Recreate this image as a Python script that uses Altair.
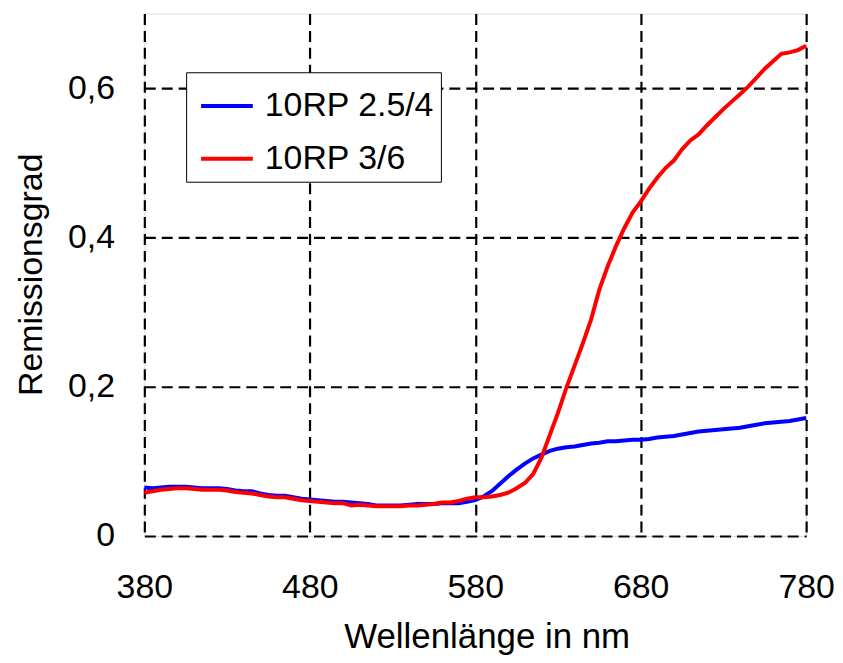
import altair as alt
import pandas as pd

wavelength = list(range(380, 785, 5))

blue_values = [
    0.065, 0.064, 0.065, 0.066, 0.066, 0.066, 0.065, 0.064, 0.064, 0.064,
    0.063, 0.061, 0.060, 0.060, 0.057, 0.055, 0.054, 0.054, 0.052, 0.050,
    0.049, 0.048, 0.047, 0.046, 0.046, 0.045, 0.044, 0.043, 0.041, 0.041,
    0.041, 0.041, 0.042, 0.043, 0.043, 0.043, 0.044, 0.044, 0.044, 0.046,
    0.048, 0.053, 0.060, 0.070, 0.080, 0.089, 0.097, 0.104, 0.109, 0.114,
    0.117, 0.119, 0.120, 0.122, 0.124, 0.125, 0.127, 0.127, 0.128, 0.129,
    0.129, 0.130, 0.132, 0.133, 0.134, 0.136, 0.138, 0.140, 0.141, 0.142,
    0.143, 0.144, 0.145, 0.147, 0.149, 0.151, 0.152, 0.153, 0.154, 0.156,
    0.158,
]

red_values = [
    0.058, 0.060, 0.062, 0.063, 0.064, 0.064, 0.063, 0.062, 0.062, 0.062,
    0.061, 0.059, 0.058, 0.057, 0.055, 0.053, 0.052, 0.052, 0.050, 0.048,
    0.047, 0.046, 0.045, 0.044, 0.044, 0.041, 0.042, 0.041, 0.040, 0.040,
    0.040, 0.040, 0.041, 0.041, 0.042, 0.043, 0.045, 0.045, 0.047, 0.050,
    0.052, 0.052, 0.053, 0.055, 0.058, 0.064, 0.071, 0.083, 0.105, 0.135,
    0.165, 0.198, 0.228, 0.258, 0.290, 0.330, 0.361, 0.388, 0.412, 0.433,
    0.448, 0.465, 0.480, 0.493, 0.503, 0.518, 0.530, 0.538, 0.550, 0.561,
    0.572, 0.582, 0.592, 0.602, 0.614, 0.626, 0.636, 0.646, 0.648, 0.651,
    0.657,
]

series_names = ["10RP 2.5/4", "10RP 3/6"]
series_colors = ["#0000FF", "#FF0000"]
x_ticks = [380, 480, 580, 680, 780]
y_ticks = [0, 0.2, 0.4, 0.6]

df = pd.concat([
    pd.DataFrame({"wl": wavelength, "val": blue_values, "series": series_names[0]}),
    pd.DataFrame({"wl": wavelength, "val": red_values, "series": series_names[1]}),
])

FONT = "Liberation Sans"

chart = alt.Chart(df).mark_line(strokeWidth=4).encode(
    x=alt.X(
        "wl:Q",
        scale=alt.Scale(domain=[380, 780], nice=False),
        axis=alt.Axis(
            values=x_ticks,
            title="Wellenlänge in nm",
            ticks=False,
            tickSize=0,
            domain=False,
            labelFont=FONT,
            labelFontSize=34,
            labelColor="black",
            labelPadding=62,
            labelBaseline="alphabetic",
            labelFlush=False,
            labelOverlap=False,
            titleFont=FONT,
            titleFontSize=35,
            titleFontWeight="normal",
            titleColor="black",
            titleBaseline="alphabetic",
            titleX=344,
            titleY=112,
            grid=True,
            gridColor="black",
            gridWidth=2.2,
            gridDash=[11, 6],
            gridOpacity=1,
        ),
    ),
    y=alt.Y(
        "val:Q",
        scale=alt.Scale(domain=[0, 0.7], nice=False),
        axis=alt.Axis(
            values=y_ticks,
            title="Remissionsgrad",
            ticks=False,
            tickSize=0,
            domain=False,
            labelFont=FONT,
            labelFontSize=34,
            labelColor="black",
            labelPadding=30,
            labelBaseline="middle",
            labelFlush=False,
            labelOverlap=False,
            labelExpr="datum.value == 0 ? '0' : replace(format(datum.value, '.1f'), '.', ',')",
            titleFont=FONT,
            titleFontSize=34,
            titleFontWeight="normal",
            titleColor="black",
            titleAngle=-90,
            titleAlign="center",
            titleBaseline="alphabetic",
            titleX=-103,
            titleY=262,
            grid=True,
            gridColor="black",
            gridWidth=2.2,
            gridDash=[11, 6],
            gridOpacity=1,
        ),
    ),
    color=alt.Color(
        "series:N",
        scale=alt.Scale(domain=series_names, range=series_colors),
        legend=alt.Legend(
            title=None,
            orient="none",
            legendX=42,
            legendY=59,
            fillColor="white",
            strokeColor="black",
            padding=6,
            symbolType="stroke",
            symbolSize=2704,
            symbolStrokeWidth=4,
            symbolOffset=7,
            labelFont=FONT,
            labelFontSize=34,
            labelColor="black",
            labelOffset=10,
            labelLimit=400,
            rowPadding=8,
        ),
    ),
).properties(
    width=665,
    height=525,
    autosize=alt.AutoSizeParams(type="none"),
    padding={"left": 137, "top": 4, "right": 29, "bottom": 118},
).configure_view(
    stroke="black",
    strokeWidth=2.5,
).configure(background="white")

chart.save("out.html", embed_options={"renderer": "svg", "actions": False})
